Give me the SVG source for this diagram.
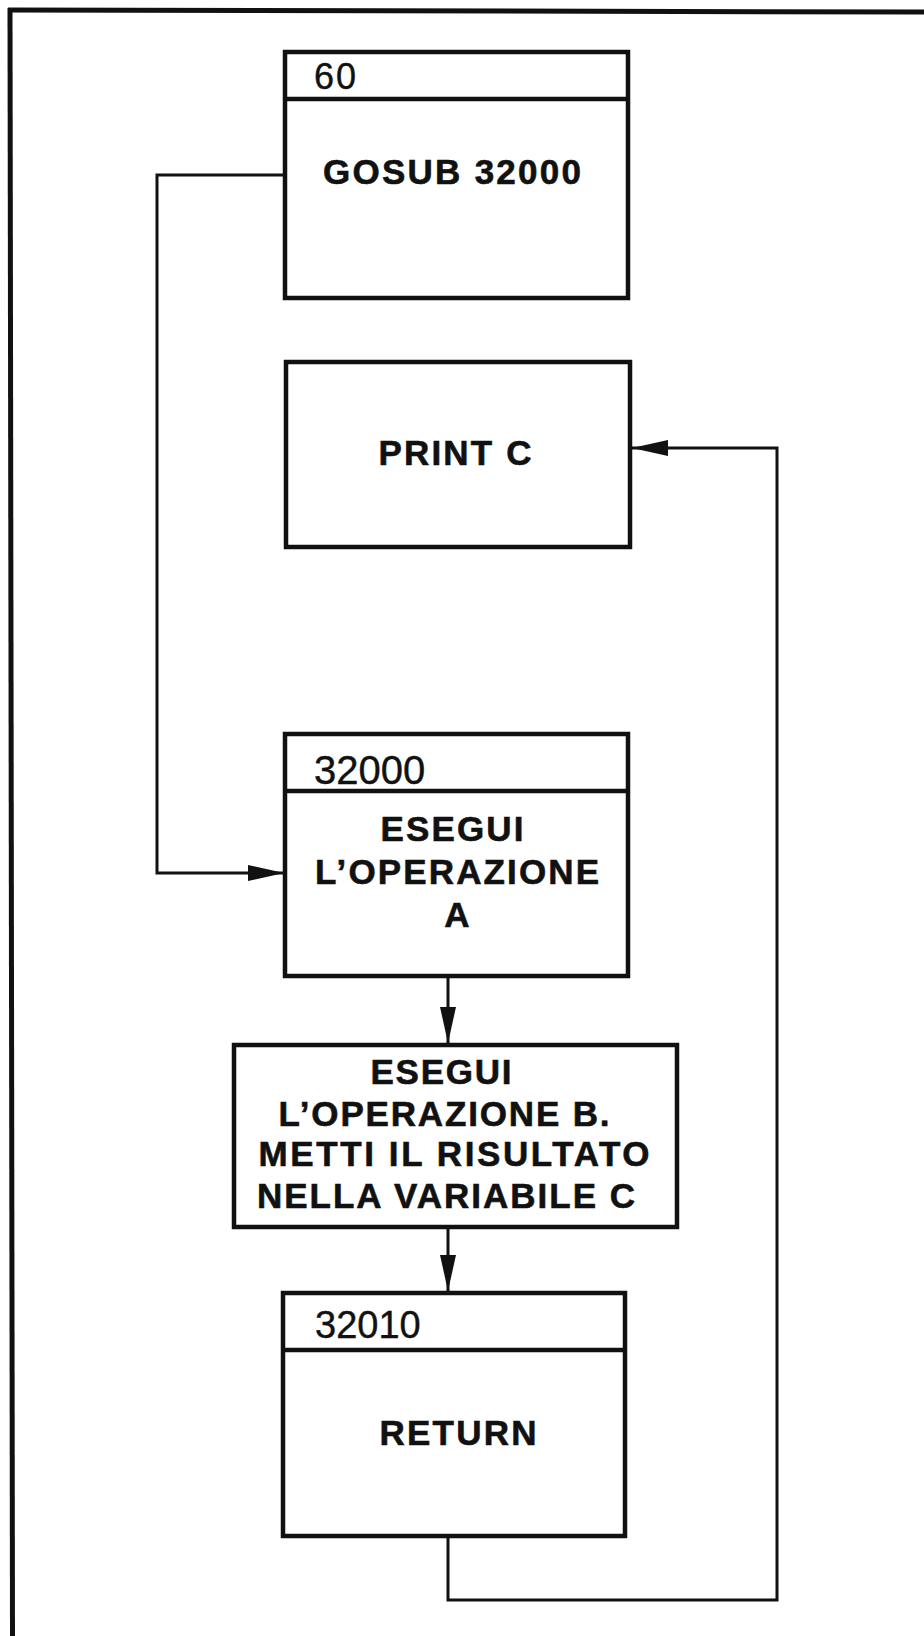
<svg xmlns="http://www.w3.org/2000/svg" width="924" height="1636" viewBox="0 0 924 1636">
<style>
.box{fill:#fff;stroke:#111;stroke-width:4.5;stroke-linejoin:miter}
.sep{stroke:#111;stroke-width:4.5}
.frame{stroke:#111;stroke-width:5;fill:none}
.conn{stroke:#111;stroke-width:3;fill:none}
.hdr{font-family:"Liberation Sans",Arial,sans-serif;font-weight:normal;fill:#111;stroke:#111;stroke-width:0.4}
.lbl{font-family:"Liberation Sans",Arial,sans-serif;font-weight:bold;font-size:35px;fill:#111;stroke:#111;stroke-width:0.6;text-anchor:middle}
</style>
<defs>
<marker id="arr" markerUnits="userSpaceOnUse" markerWidth="36" markerHeight="16" refX="36" refY="8" orient="auto">
<path d="M0,0 L36,8 L0,16 z" fill="#111"/>
</marker>
</defs>
<rect width="924" height="1636" fill="#fff"/>
<g id="frame">
<line class="frame" x1="10" y1="8" x2="12.5" y2="1636"/>
<line class="frame" x1="8" y1="10" x2="924" y2="12"/>
</g>
<g id="connectors">
<polyline class="conn" points="285,175 157,175 157,873 284,873" marker-end="url(#arr)"/>
<line class="conn" x1="448" y1="976" x2="448" y2="1043" marker-end="url(#arr)"/>
<line class="conn" x1="448" y1="1227" x2="448" y2="1291" marker-end="url(#arr)"/>
<polyline class="conn" points="448,1536 448,1600 777,1600 777,448 632,448" marker-end="url(#arr)"/>
</g>
<g id="n60">
<rect class="box" x="285" y="52" width="343" height="246"/>
<line class="sep" x1="285" y1="99" x2="628" y2="99"/>
<text class="hdr" x="314" y="89" font-size="36" letter-spacing="2">60</text>
<text class="lbl" x="452" y="184" textLength="258" lengthAdjust="spacing">GOSUB 32000</text>
</g>
<g id="nprint">
<rect class="box" x="286" y="362" width="344" height="185"/>
<text class="lbl" x="455" y="465" textLength="153" lengthAdjust="spacing">PRINT C</text>
</g>
<g id="n32000">
<rect class="box" x="285" y="734" width="343" height="242"/>
<line class="sep" x1="285" y1="791" x2="628" y2="791"/>
<text class="hdr" x="314" y="784" font-size="40">32000</text>
<text class="lbl" x="452" y="841" textLength="143" lengthAdjust="spacing">ESEGUI</text>
<text class="lbl" x="457" y="884" textLength="284" lengthAdjust="spacing">L’OPERAZIONE</text>
<text class="lbl" x="457" y="927">A</text>
</g>
<g id="nopb">
<rect class="box" x="234" y="1045" width="443" height="182"/>
<text class="lbl" x="441" y="1084" textLength="141" lengthAdjust="spacing">ESEGUI</text>
<text class="lbl" x="444" y="1126" textLength="331" lengthAdjust="spacing">L’OPERAZIONE B.</text>
<text class="lbl" x="454" y="1166" textLength="391" lengthAdjust="spacing">METTI IL RISULTATO</text>
<text class="lbl" x="446" y="1208" textLength="378" lengthAdjust="spacing">NELLA VARIABILE C</text>
</g>
<g id="n32010">
<rect class="box" x="283" y="1293" width="342" height="243"/>
<line class="sep" x1="283" y1="1350" x2="625" y2="1350"/>
<text class="hdr" x="315" y="1338" font-size="38">32010</text>
<text class="lbl" x="458" y="1445" textLength="157" lengthAdjust="spacing">RETURN</text>
</g>
</svg>
